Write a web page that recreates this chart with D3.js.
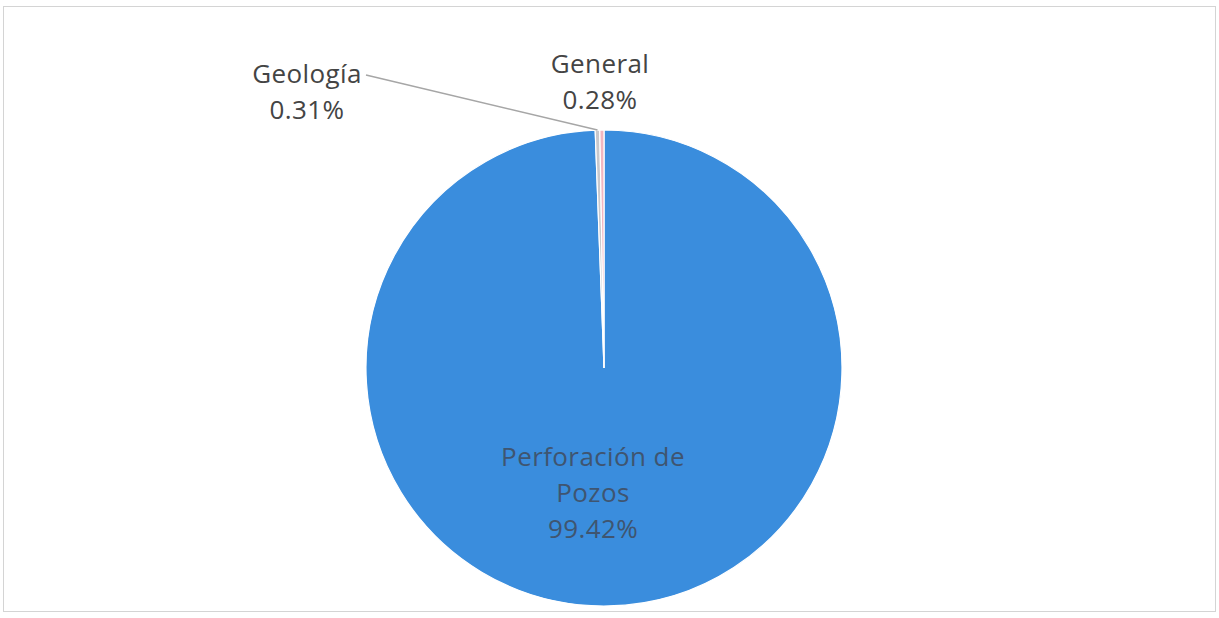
<!DOCTYPE html>
<html>
<head>
<meta charset="utf-8">
<script src="https://cdn.jsdelivr.net/npm/d3@7"></script>
<style>
  body { margin: 0; background: #fff; }
  svg { display: block; font-family: "Open Sans", "Noto Sans", sans-serif; }
</style>
</head>
<body>
<svg width="1219" height="618"></svg>
<script>
// chart data
const categories = ["Perforación de Pozos", "Geología", "General"];
const shares = [99.42, 0.31, 0.28];
const labelLines = [["Perforación de", "Pozos", "99.42%"], ["Geología", "0.31%"], ["General", "0.28%"]];
const sliceColors = ["#3a8ddd", "#c8c8cc", "#f2b6c0"];

const svg = d3.select("svg");
const width = Number(svg.attr("width"));
const height = Number(svg.attr("height"));
const textColor = "#444444";

// chart frame
svg.append("rect")
    .attr("x", 3.5).attr("y", 6.5)
    .attr("width", width - 7).attr("height", height - 13)
    .attr("fill", "none")
    .attr("stroke", "#d4d4d4");

const cx = 604, cy = 368, radius = 238;
const data = categories.map((c, i) => ({ name: c, value: shares[i], lines: labelLines[i], color: sliceColors[i] }));

const pie = d3.pie().value(d => d.value).sort(null);
const arc = d3.arc().innerRadius(0).outerRadius(radius);
const arcs = pie(data);

const g = svg.append("g").attr("transform", `translate(${cx},${cy})`);
g.selectAll("path")
    .data(arcs)
    .join("path")
    .attr("d", arc)
    .attr("fill", d => d.data.color)
    .attr("stroke", "#ffffff")
    .attr("stroke-width", 1.2);

// label positions (relative to the pie centre)
const labelPos = [[-11, 98], [-297, -285], [-4, -295]];
const lineGap = 36;

arcs.forEach((a, i) => {
    const [lx, ly] = labelPos[i];
    const t = g.append("text")
        .attr("text-anchor", "middle")
        .attr("font-size", 26)
        .attr("letter-spacing", 0.4)
        .attr("fill", i === 0 ? "#3f5570" : textColor);
    a.data.lines.forEach((line, j) => {
        t.append("tspan")
            .attr("x", lx)
            .attr("y", ly + j * lineGap)
            .text(line);
    });
});

// leader line for Geología
const geo = arcs[1];
const mid = (geo.startAngle + geo.endAngle) / 2;
const edge = [Math.sin(mid) * radius, -Math.cos(mid) * radius];
g.append("polyline")
    .attr("points", [[-238, -293], edge].map(p => p.join(",")).join(" "))
    .attr("fill", "none")
    .attr("stroke", "#a6a6a6")
    .attr("stroke-width", 1.5);
</script>
</body>
</html>
